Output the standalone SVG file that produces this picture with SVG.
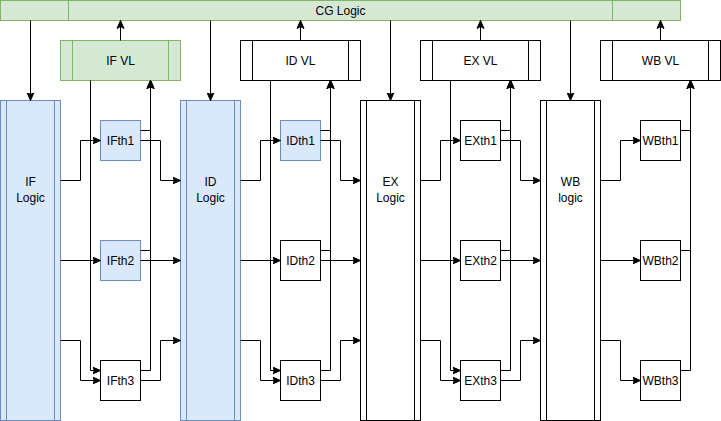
<svg xmlns="http://www.w3.org/2000/svg" width="721" height="421" viewBox="0 0 721 421">
<style>
.g{fill:#d5e8d4;stroke:#82b366;stroke-width:1}
.b{fill:#dae8fc;stroke:#6c8ebf;stroke-width:1}
.w{fill:#ffffff;stroke:#000000;stroke-width:1}
.e{fill:none;stroke:#000000;stroke-width:1}
text{font-family:"Liberation Sans",Arial,sans-serif;font-size:12px;fill:#000000;text-anchor:middle;dominant-baseline:central}
</style>
<defs>
<marker id="a" markerUnits="userSpaceOnUse" markerWidth="10" markerHeight="10" viewBox="0 0 10 10" refX="8" refY="5" orient="auto">
<path d="M0,1.5 L8,5 L0,8.5 L2,5 Z" fill="#000000" stroke="#000000" stroke-width="1"/>
</marker>
</defs>
<rect width="721" height="421" fill="#ffffff"/>
<g transform="translate(0.5,0.5)">
<g id="cg"><rect class="g" x="0" y="0" width="680" height="20"/><path class="g" d="M68,0V20M612,0V20"/><text x="340" y="10">CG Logic</text></g>

<g id="ifvl"><rect class="g" x="60" y="40" width="120" height="40"/><path class="g" d="M72,40V80M168,40V80"/><text x="120" y="60">IF VL</text></g>
<g id="idvl"><rect class="w" x="240" y="40" width="120" height="40"/><path class="w" d="M252,40V80M348,40V80"/><text x="300" y="60">ID VL</text></g>
<g id="exvl"><rect class="w" x="420" y="40" width="120" height="40"/><path class="w" d="M432,40V80M528,40V80"/><text x="480" y="60">EX VL</text></g>
<g id="wbvl"><rect class="w" x="600" y="40" width="120" height="40"/><path class="w" d="M612,40V80M708,40V80"/><text x="660" y="60">WB VL</text></g>

<g id="iflogic"><rect class="b" x="0" y="100" width="60" height="320"/><path class="b" d="M6,100V420M54,100V420"/><text x="30" y="181">IF</text><text x="30" y="197">Logic</text></g>
<g id="idlogic"><rect class="b" x="180" y="100" width="60" height="320"/><path class="b" d="M186,100V420M234,100V420"/><text x="210" y="181">ID</text><text x="210" y="197">Logic</text></g>
<g id="exlogic"><rect class="w" x="360" y="100" width="60" height="320"/><path class="w" d="M366,100V420M414,100V420"/><text x="390" y="181">EX</text><text x="390" y="197">Logic</text></g>
<g id="wblogic"><rect class="w" x="540" y="100" width="60" height="320"/><path class="w" d="M546,100V420M594,100V420"/><text x="570" y="181">WB</text><text x="570" y="197">logic</text></g>

<g id="ifth1"><rect class="b" x="100" y="120" width="40" height="40"/><text x="120" y="140">IFth1</text></g>
<g id="ifth2"><rect class="b" x="100" y="240" width="40" height="40"/><text x="120" y="260">IFth2</text></g>
<g id="ifth3"><rect class="w" x="100" y="360" width="40" height="40"/><text x="120" y="380">IFth3</text></g>
<g id="idth1"><rect class="b" x="280" y="120" width="40" height="40"/><text x="300" y="140">IDth1</text></g>
<g id="idth2"><rect class="w" x="280" y="240" width="40" height="40"/><text x="300" y="260">IDth2</text></g>
<g id="idth3"><rect class="w" x="280" y="360" width="40" height="40"/><text x="300" y="380">IDth3</text></g>
<g id="exth1"><rect class="w" x="460" y="120" width="40" height="40"/><text x="480" y="140">EXth1</text></g>
<g id="exth2"><rect class="w" x="460" y="240" width="40" height="40"/><text x="480" y="260">EXth2</text></g>
<g id="exth3"><rect class="w" x="460" y="360" width="40" height="40"/><text x="480" y="380">EXth3</text></g>
<g id="wbth1"><rect class="w" x="640" y="120" width="40" height="40"/><text x="660" y="140">WBth1</text></g>
<g id="wbth2"><rect class="w" x="640" y="240" width="40" height="40"/><text x="660" y="260">WBth2</text></g>
<g id="wbth3"><rect class="w" x="640" y="360" width="40" height="40"/><text x="660" y="380">WBth3</text></g>

<g id="connectors" class="e" marker-end="url(#a)">
<path class="e" d="M30,20V100"/><path class="e" d="M210,20V100"/><path class="e" d="M390,20V100"/><path class="e" d="M570,20V100"/>
<path class="e" d="M120,40V20"/><path class="e" d="M300,40V20"/><path class="e" d="M480,40V20"/><path class="e" d="M660,40V20"/>

<path class="e" d="M60,180H80V140H100"/><path class="e" d="M60,260H100"/><path class="e" d="M60,340H80V380H100"/>
<path class="e" d="M90,80V370H100"/>
<path class="e" d="M140,130H150V80"/><path class="e" d="M140,250H150V80"/><path class="e" d="M140,370H150V80"/>
<path class="e" d="M140,140H160V180H180"/><path class="e" d="M140,260H180"/><path class="e" d="M140,380H160V340H180"/>

<path class="e" d="M240,180H260V140H280"/><path class="e" d="M240,260H280"/><path class="e" d="M240,340H260V380H280"/>
<path class="e" d="M270,80V370H280"/>
<path class="e" d="M320,130H330V80"/><path class="e" d="M320,250H330V80"/><path class="e" d="M320,370H330V80"/>
<path class="e" d="M320,140H340V180H360"/><path class="e" d="M320,260H360"/><path class="e" d="M320,380H340V340H360"/>

<path class="e" d="M420,180H440V140H460"/><path class="e" d="M420,260H460"/><path class="e" d="M420,340H440V380H460"/>
<path class="e" d="M450,80V370H460"/>
<path class="e" d="M500,130H510V80"/><path class="e" d="M500,250H510V80"/><path class="e" d="M500,370H510V80"/>
<path class="e" d="M500,140H520V180H540"/><path class="e" d="M500,260H540"/><path class="e" d="M500,380H520V340H540"/>

<path class="e" d="M600,180H620V140H640"/><path class="e" d="M600,260H640"/><path class="e" d="M600,340H620V380H640"/>
<path class="e" d="M680,130H690V80"/><path class="e" d="M680,250H690V80"/><path class="e" d="M680,370H690V80"/>
</g>
</g>
</svg>
